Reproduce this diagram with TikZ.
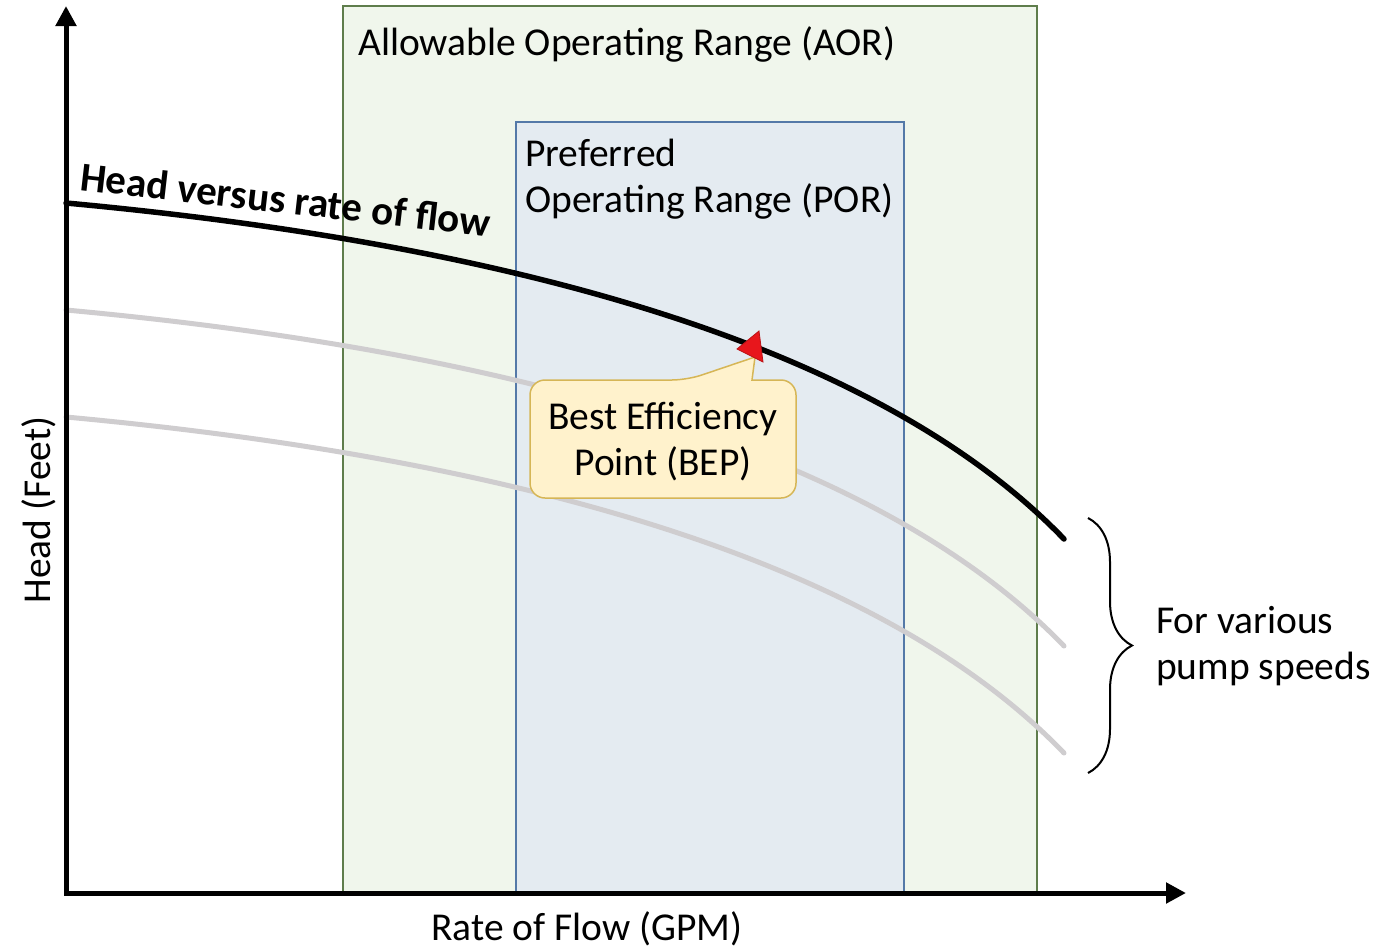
\documentclass[tikz,border=0pt]{standalone}
\usepackage{fontspec}
\setmainfont{Carlito}
\usetikzlibrary{arrows.meta,decorations.pathreplacing}

\definecolor{aorfill}{HTML}{F0F6EC}
\definecolor{aorline}{HTML}{5F7D4C}
\definecolor{porfill}{HTML}{E4EBF1}
\definecolor{porline}{HTML}{5479A8}
\definecolor{notefill}{HTML}{FFF2CC}
\definecolor{noteline}{HTML}{D6B656}
\definecolor{speedgray}{HTML}{CFCDCF}
\definecolor{bepred}{HTML}{E8161C}

\begin{document}
\begin{tikzpicture}[x=1pt,y=-1pt,
    every node/.style={font=\fontsize{39.5}{46}\selectfont, inner sep=0pt},
    axis/.style={line width=5pt, line join=miter,
      {Triangle[length=20pt,width=20pt]}-{Triangle[length=20pt,width=20pt]}},
    curve/.style={line width=5pt, line cap=round},
    rangebox/.style={line width=1.2pt}]

      % Definitions
      \def\dy{107}      % Vertical gap between the pump speed curves
      \def\rc{15pt}     % Corner radius of the callout box
      \def\pumpcurve{(66,203) .. controls (466,240) and (864,331) .. (1064,539)}

      \useasboundingbox (0,0) rectangle (1376,948);

      \coordinate (O) at (66,893);
      \coordinate (ytip) at (66,6);
      \coordinate (xtip) at (1186,893);

      % Operating ranges
      \draw [rangebox, draw=aorline, fill=aorfill] (343,6) rectangle (1037,893);
      \draw [rangebox, draw=porline, fill=porfill] (516,122) rectangle (904,893);
      \node [anchor=base west] (aor) at (358,55) {Allowable Operating Range (AOR)};
      \node [anchor=base west, align=left] (por) at (525,212) {Preferred\\Operating Range (POR)};   % base is on the last line

      % Curves for the lower speeds, then the head curve itself
      \foreach \k in {1,2}
        \draw [curve, speedgray, shift={(0,\k*\dy)}] \pumpcurve;
      \draw [curve, line width=5.5pt, black] \pumpcurve;
      \node [anchor=base west, rotate=-6.5, font=\fontsize{41}{46}\selectfont\bfseries] (hq) at (79,190) {Head versus rate of flow};

      % Callout for the best efficiency point
      \draw [line width=1.5pt, draw=noteline, fill=notefill, rounded corners=\rc]
        (752,380) -- (796,380) -- (796,498) -- (530,498) -- (530,380) -- (687,380) [sharp corners] -- (755,357) -- cycle;
      \node [align=center] (bep) at (663,442) {Best Efficiency\\Point (BEP)};
      \draw [fill=bepred, draw=bepred!80!black, line width=0.8pt] (737,349) -- (759,331) -- (763,362) -- cycle;

      % Brace grouping the three speeds
      \coordinate (b1) at (1088,518);
      \coordinate (b2) at (1088,773);
      \draw [line width=2pt, decorate, decoration={brace, amplitude=44pt}] (b1) -- (b2);
      \node [anchor=base west, align=left] (speeds) at (1156,679) {For various\\pump speeds};

      % Axes
      \draw [axis] (ytip) -- (O) -- (xtip);
      \node [anchor=base] (xlabel) at (587,940) {Rate of Flow (GPM)};
      \node [anchor=base, rotate=90] (ylabel) at (50,510) {Head (Feet)};

\end{tikzpicture}
\end{document}
